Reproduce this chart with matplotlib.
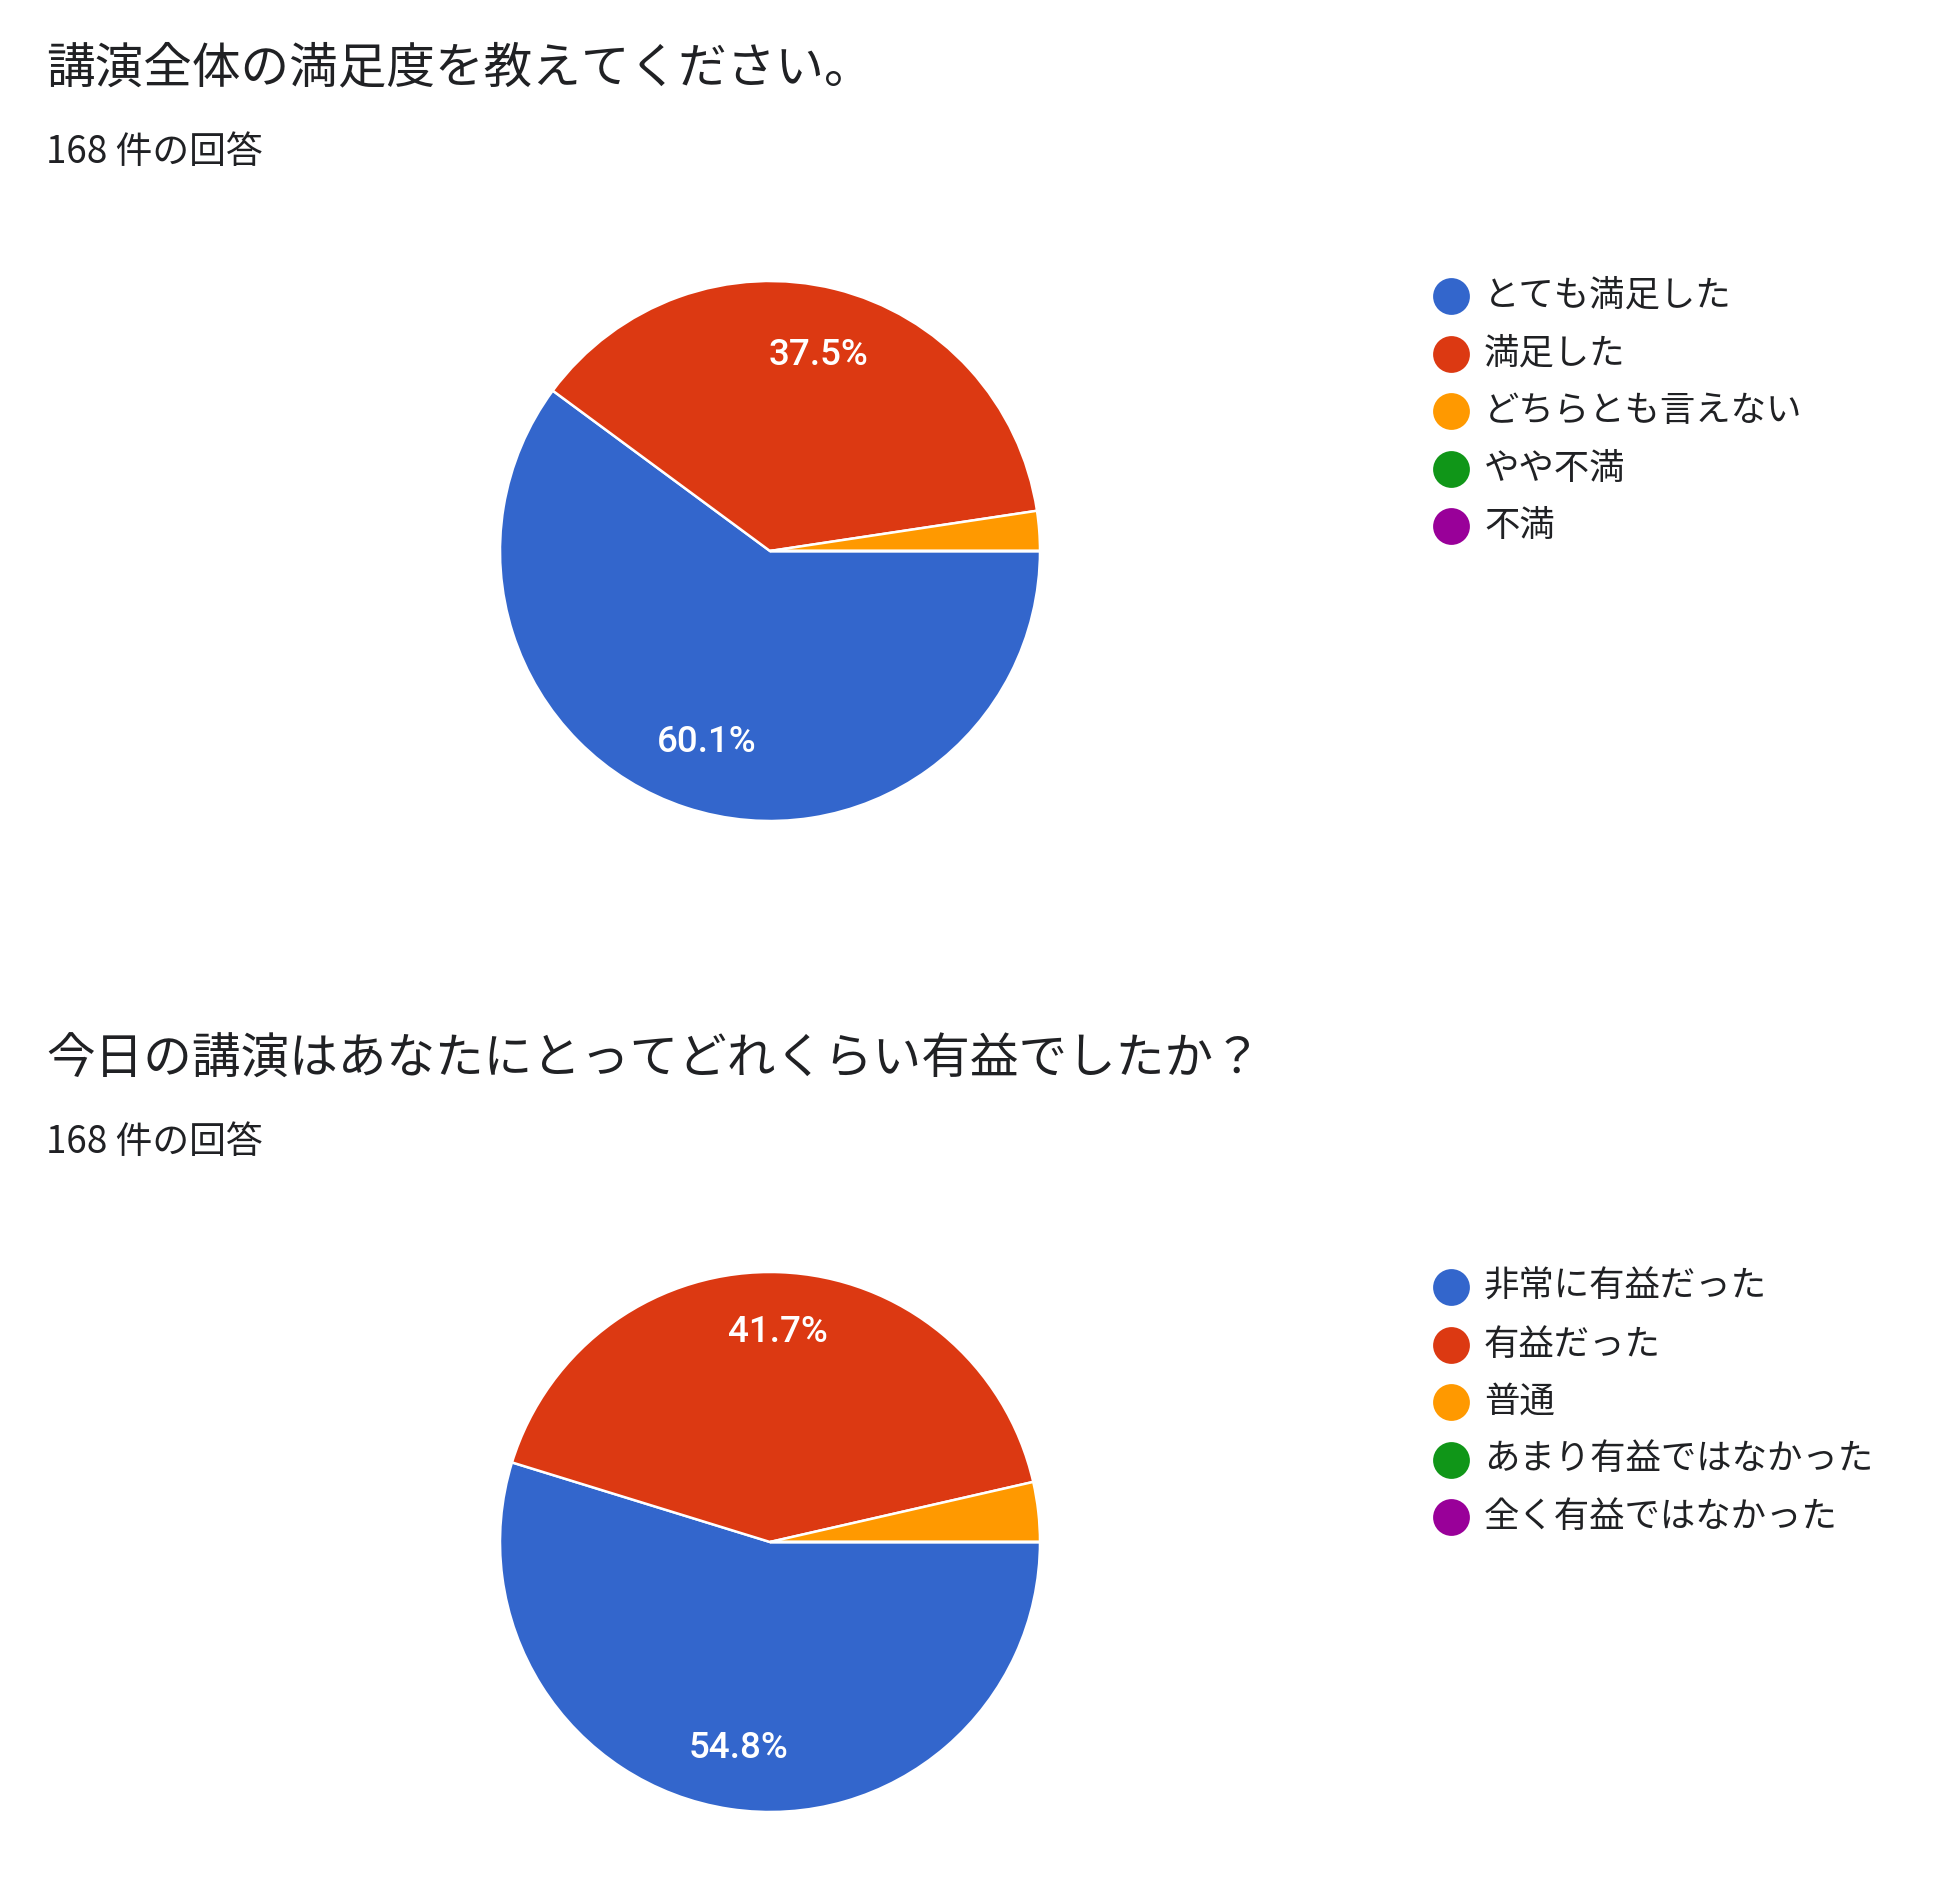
import matplotlib.pyplot as plt
from matplotlib.lines import Line2D

plt.rcParams['font.family'] = ['Noto Sans CJK JP', 'DejaVu Sans']

# Données des deux questions
titre1 = '講演全体の満足度を教えてください。'
titre2 = '今日の講演はあなたにとってどれくらい有益でしたか？'
sous_titre = '168 件の回答'

labels1 = ['とても満足した', '満足した', 'どちらとも言えない', 'やや不満', '不満']
valeurs1 = [101, 63, 4, 0, 0]

labels2 = ['非常に有益だった', '有益だった', '普通', 'あまり有益ではなかった', '全く有益ではなかった']
valeurs2 = [92, 70, 6, 0, 0]

couleurs = ['#3366CC', '#DC3912', '#FF9900', '#109618', '#990099']

W, H = 1938, 1889
fig = plt.figure(figsize=(W / 100, H / 100), dpi=100)
fig.patch.set_facecolor('white')

texte = '#202124'


def fx(x):
    return x / W


def fy(y):
    return 1 - y / H


def pct_label(p):
    return f'{p:.1f}%' if p >= 5 else ''


def bloc(dy, titre, labels, valeurs, dist):
    # titre et nombre de réponses
    fig.text(fx(46), fy(69 + dy), titre, fontsize=35, color=texte, va='center', ha='left')
    fig.text(fx(46), fy(152 + dy), sous_titre, fontsize=26.5, color=texte, va='center', ha='left')

    # camembert
    cx, cy, r = 770, 551 + dy, 270
    ax = fig.add_axes([fx(cx - r), fy(cy + r), 2 * r / W, 2 * r / H])
    wedges, txts, autotexts = ax.pie(
        valeurs, colors=couleurs, startangle=0, counterclock=False,
        autopct=pct_label, pctdistance=dist, radius=1,
        wedgeprops=dict(edgecolor='white', linewidth=1.8),
        textprops=dict(color='white', fontsize=26.5, fontweight='medium',
                       family=['Roboto', 'DejaVu Sans']))
    ax.set_xlim(-1, 1)
    ax.set_ylim(-1, 1)
    ax.set_aspect('equal')
    ax.axis('off')

    # légende
    for i, (lab, col) in enumerate(zip(labels, couleurs)):
        y = 296 + dy + i * 57.5
        fig.add_artist(Line2D([fx(1451)], [fy(y)], marker='o', markersize=26.5,
                              color=col, markeredgewidth=0, transform=fig.transFigure))
        fig.text(fx(1484), fy(y), lab, fontsize=25.5, color=texte, va='center', ha='left')


bloc(0, titre1, labels1, valeurs1, 0.745)
bloc(991, titre2, labels2, valeurs2, 0.775)

fig.savefig('out.png', dpi=100, facecolor='white')
